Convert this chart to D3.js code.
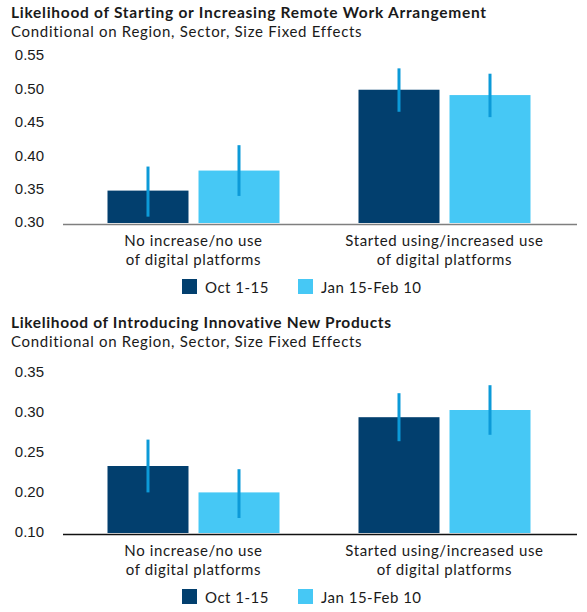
<!DOCTYPE html>
<html><head><meta charset="utf-8">
<script src="https://cdn.jsdelivr.net/npm/d3@7"></script>
<style>
body{margin:0;background:#fff;}
svg text{fill:#1a1a1a;}
</style></head>
<body><svg id="c" width="587" height="612"></svg>
<script>
// ---- data ----
const categories = ["No increase/no use|of digital platforms", "Started using/increased use|of digital platforms"];
const seriesNames = ["Oct 1-15", "Jan 15-Feb 10"];
const colors = ["#023f6e", "#46c8f5"];
const errColor = "#0c9ad8";

const remoteTitle = "Likelihood of Starting or Increasing Remote Work Arrangement";
const remoteValues = [[0.350, 0.380], [0.501, 0.493]];      // [category][series]
const remoteLow    = [[0.311, 0.342], [0.468, 0.460]];
const remoteHigh   = [[0.386, 0.418], [0.533, 0.525]];
const remoteTicks  = [0.30, 0.35, 0.40, 0.45, 0.50, 0.55];
const remoteTickLabels = ["0.30", "0.35", "0.40", "0.45", "0.50", "0.55"];

const productTitle = "Likelihood of Introducing Innovative New Products";
const productValues = [[0.235, 0.202], [0.296, 0.305]];
const productLow    = [[0.202, 0.170], [0.266, 0.274]];
const productHigh   = [[0.268, 0.231], [0.326, 0.336]];
const productTicks  = [0.15, 0.20, 0.25, 0.30, 0.35];
const productTickLabels = ["0.10", "0.20", "0.25", "0.30", "0.35"];

const subtitle = "Conditional on Region, Sector, Size Fixed Effects";

const svg = d3.select("#c");

function spread(sel, target) {
  const n = sel.text().length;
  const w = sel.node().getComputedTextLength();
  sel.attr("letter-spacing", ((target - w) / n).toFixed(3));
}

function panel(o) {
  const g = svg.append("g");
  const t = g.append("text").attr("x", 11).attr("y", o.top + 18)
    .style("font-family", "Lato").style("font-weight", "bold").style("font-size", "15.5px")
    .text(o.title);
  spread(t, o.titleW);
  const st = g.append("text").attr("x", 11).attr("y", o.top + 37)
    .style("font-family", "Lato").style("font-size", "15px")
    .text(subtitle);
  spread(st, 351);

  const y = d3.scaleLinear().domain(o.domain).range([o.base, o.topY]);
  const centers = [193.5, 444.5];
  const x1 = d3.scaleBand().domain(d3.range(seriesNames.length)).range([-86, 86]).paddingInner(0.11);

  // y axis labels
  const ax = d3.axisLeft(y).tickValues(o.ticks).tickSize(0).tickPadding(0)
    .tickFormat((d, i) => o.tickLabels[i]);
  const ag = g.append("g").attr("transform", "translate(44,-2)").call(ax);
  ag.select(".domain").remove();
  ag.selectAll("text").style("font-family", "Liberation Sans, Arial").style("font-size", "15px").attr("fill", "#1a1a1a");

  // bars
  o.values.forEach((vals, ci) => {
    const cg = g.append("g").attr("transform", `translate(${centers[ci]},0)`);
    vals.forEach((v, si) => {
      cg.append("rect").attr("x", x1(si)).attr("width", x1.bandwidth())
        .attr("y", y(v)).attr("height", y(o.domain[0]) - y(v) - 1)
        .attr("fill", colors[si]);
      const cx = x1(si) + x1.bandwidth() / 2;
      cg.append("line").attr("x1", cx).attr("x2", cx)
        .attr("y1", y(o.high[ci][si])).attr("y2", y(o.low[ci][si]))
        .attr("stroke", errColor).attr("stroke-width", 3);
    });
    const lines = categories[ci].split("|");
    lines.forEach((tx, li) => {
      g.append("text").attr("x", centers[ci]).attr("y", o.base + 22 + li * 18.5)
        .attr("text-anchor", "middle").attr("letter-spacing", 0.6)
        .style("font-family", "Lato").style("font-size", "15px").text(tx);
    });
  });

  // axis line
  g.append("line").attr("x1", 63).attr("x2", 577).attr("y1", o.base + 0.5).attr("y2", o.base + 0.5)
    .attr("stroke", o.axisColor).attr("stroke-width", 1.5);

  // legend
  const legX = [182, 298];
  seriesNames.forEach((s, i) => {
    g.append("rect").attr("x", legX[i]).attr("y", o.base + 55).attr("width", 15).attr("height", 15).attr("fill", colors[i]);
    g.append("text").attr("x", legX[i] + 23).attr("y", o.base + 69).attr("letter-spacing", 0.5)
      .style("font-family", "Lato").style("font-size", "15px").text(s);
  });
}

panel({ top: 0, title: remoteTitle, titleW: 476, values: remoteValues, low: remoteLow, high: remoteHigh,
  domain: [0.30, 0.55], base: 224, topY: 57, ticks: remoteTicks, tickLabels: remoteTickLabels, axisColor: "#7f7f7f" });
panel({ top: 310, title: productTitle, titleW: 381, values: productValues, low: productLow, high: productHigh,
  domain: [0.15, 0.35], base: 534, topY: 374, ticks: productTicks, tickLabels: productTickLabels, axisColor: "#111" });
</script></body></html>
